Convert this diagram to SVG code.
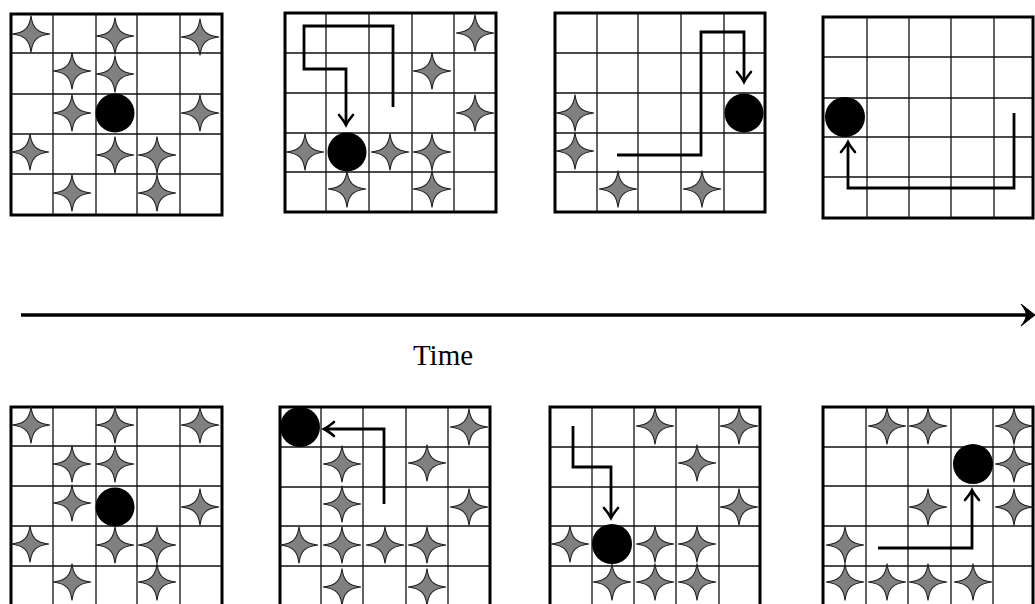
<svg xmlns="http://www.w3.org/2000/svg" xmlns:xlink="http://www.w3.org/1999/xlink" width="1035" height="604" viewBox="0 0 1035 604">
<style>
.bg{fill:#ffffff}
.inner{fill:none;stroke:#111;stroke-width:1.3}
.border{fill:none;stroke:#000;stroke-width:3}
.ball{fill:#000}
.route{fill:none;stroke:#000;stroke-width:2.8;stroke-linejoin:miter}
.axis{fill:none;stroke:#000;stroke-width:3.5}
.label{font-family:"Liberation Serif","Times New Roman",serif;font-size:29px;fill:#000}
</style>
<defs>
<path id="star" d="M0,-18.5 C1.5,-6 6,-1.5 19,0 C6,1.5 1.5,6 0,18.5 C-1.5,6 -6,1.5 -19,0 C-6,-1.5 -1.5,-6 0,-18.5 Z" fill="#808080" stroke="#222" stroke-width="1.1"/>
<marker id="ah" markerUnits="userSpaceOnUse" markerWidth="24" markerHeight="24" viewBox="-14 -12 16 24" refX="0" refY="0" orient="auto" overflow="visible">
<path d="M-10,-7 Q-4,-2 0,0 Q-4,2 -10,7" fill="none" stroke="#000" stroke-width="2.6" stroke-linecap="round"/>
</marker>
</defs>
<rect class="bg" x="0" y="0" width="1035" height="604"/>

<g id="panel-top-1">
<path class="inner" d="M53,14V215M96,14V215M137,14V215M180,14V215M11,53H222M11,94H222M11,134H222M11,174H222"/>
<rect class="border" x="11" y="14" width="211" height="201"/>
<use xlink:href="#star" x="31" y="34"/>
<use xlink:href="#star" x="115" y="36"/>
<use xlink:href="#star" x="200" y="37"/>
<use xlink:href="#star" x="72" y="71"/>
<use xlink:href="#star" x="115" y="74"/>
<use xlink:href="#star" x="72" y="113"/>
<use xlink:href="#star" x="200" y="113"/>
<use xlink:href="#star" x="30" y="152"/>
<use xlink:href="#star" x="115" y="155"/>
<use xlink:href="#star" x="157" y="155"/>
<use xlink:href="#star" x="72" y="193"/>
<use xlink:href="#star" x="157" y="193"/>
<circle class="ball" cx="115" cy="113" r="19.5"/>
</g>

<g id="panel-top-2">
<path class="inner" d="M326,13V212M369,13V212M412,13V212M454,13V212M285,53H496M285,93H496M285,133H496M285,172H496"/>
<rect class="border" x="285" y="13" width="211" height="199"/>
<use xlink:href="#star" x="475" y="33"/>
<use xlink:href="#star" x="432" y="71"/>
<use xlink:href="#star" x="475" y="113"/>
<use xlink:href="#star" x="305" y="152"/>
<use xlink:href="#star" x="390" y="152"/>
<use xlink:href="#star" x="432" y="152"/>
<use xlink:href="#star" x="347" y="189"/>
<use xlink:href="#star" x="432" y="189"/>
<circle class="ball" cx="347" cy="152" r="19.5"/>
</g>

<g id="panel-top-3">
<path class="inner" d="M597,13V212M638,13V212M681,13V212M724,13V212M555,53H765M555,93H765M555,133H765M555,172H765"/>
<rect class="border" x="555" y="13" width="210" height="199"/>
<use xlink:href="#star" x="575" y="113"/>
<use xlink:href="#star" x="575" y="151"/>
<use xlink:href="#star" x="618" y="189"/>
<use xlink:href="#star" x="702" y="189"/>
<circle class="ball" cx="744" cy="113" r="19.5"/>
</g>

<g id="panel-top-4">
<path class="inner" d="M867,17V218M909,17V218M951,17V218M994,17V218M823,57H1033M823,98H1033M823,137H1033M823,177H1033"/>
<rect class="border" x="823" y="17" width="210" height="201"/>
<circle class="ball" cx="845" cy="117" r="20"/>
</g>

<g id="panel-bottom-1">
<path class="inner" d="M53,407V606M96,407V606M137,407V606M180,407V606M11,446H222M11,486H222M11,526H222M11,566H222"/>
<rect class="border" x="11" y="407" width="211" height="200"/>
<use xlink:href="#star" x="31" y="425"/>
<use xlink:href="#star" x="115" y="425"/>
<use xlink:href="#star" x="200" y="425"/>
<use xlink:href="#star" x="72" y="464"/>
<use xlink:href="#star" x="115" y="464"/>
<use xlink:href="#star" x="72" y="503"/>
<use xlink:href="#star" x="200" y="507"/>
<use xlink:href="#star" x="30" y="544"/>
<use xlink:href="#star" x="115" y="545"/>
<use xlink:href="#star" x="157" y="545"/>
<use xlink:href="#star" x="72" y="582"/>
<use xlink:href="#star" x="157" y="582"/>
<circle class="ball" cx="115" cy="507" r="19.5"/>
</g>

<g id="panel-bottom-2">
<path class="inner" d="M321,407V606M363,407V606M406,407V606M448,407V606M280,447H490M280,487H490M280,526H490M280,566H490"/>
<rect class="border" x="280" y="407" width="210" height="200"/>
<use xlink:href="#star" x="469" y="427"/>
<use xlink:href="#star" x="342" y="464"/>
<use xlink:href="#star" x="427" y="463"/>
<use xlink:href="#star" x="342" y="504"/>
<use xlink:href="#star" x="469" y="507"/>
<use xlink:href="#star" x="299" y="545"/>
<use xlink:href="#star" x="342" y="545"/>
<use xlink:href="#star" x="385" y="545"/>
<use xlink:href="#star" x="427" y="545"/>
<use xlink:href="#star" x="342" y="587"/>
<use xlink:href="#star" x="427" y="587"/>
<circle class="ball" cx="300" cy="427" r="20"/>
</g>

<g id="panel-bottom-3">
<path class="inner" d="M592,407V606M634,407V606M676,407V606M719,407V606M550,447H760M550,487H760M550,526H760M550,566H760"/>
<rect class="border" x="550" y="407" width="210" height="200"/>
<use xlink:href="#star" x="655" y="426"/>
<use xlink:href="#star" x="739" y="426"/>
<use xlink:href="#star" x="697" y="463"/>
<use xlink:href="#star" x="739" y="507"/>
<use xlink:href="#star" x="570" y="544"/>
<use xlink:href="#star" x="655" y="544"/>
<use xlink:href="#star" x="697" y="544"/>
<use xlink:href="#star" x="612" y="582"/>
<use xlink:href="#star" x="655" y="582"/>
<use xlink:href="#star" x="697" y="582"/>
<circle class="ball" cx="612" cy="544" r="20"/>
</g>

<g id="panel-bottom-4">
<path class="inner" d="M866,407V606M908,407V606M951,407V606M993,407V606M823,447H1033M823,486H1033M823,526H1033M823,566H1033"/>
<rect class="border" x="823" y="407" width="210" height="200"/>
<use xlink:href="#star" x="887" y="426"/>
<use xlink:href="#star" x="928" y="426"/>
<use xlink:href="#star" x="1014" y="426"/>
<use xlink:href="#star" x="1014" y="464"/>
<use xlink:href="#star" x="928" y="507"/>
<use xlink:href="#star" x="1014" y="507"/>
<use xlink:href="#star" x="845" y="545"/>
<use xlink:href="#star" x="845" y="582"/>
<use xlink:href="#star" x="887" y="582"/>
<use xlink:href="#star" x="928" y="582"/>
<use xlink:href="#star" x="973" y="582"/>
<circle class="ball" cx="973" cy="464" r="20"/>
</g>

<g id="connectors">
<path class="route" d="M393,107V26H304V69H346V125" marker-end="url(#ah)"/>
<path class="route" d="M617,155H701V32H744V82" marker-end="url(#ah)"/>
<path class="route" d="M1014,113V188H848V142" marker-end="url(#ah)"/>
<path class="route" d="M384,504V429H324" marker-end="url(#ah)"/>
<path class="route" d="M573,426V467H611V518" marker-end="url(#ah)"/>
<path class="route" d="M878,548H972V490" marker-end="url(#ah)"/>
<path class="axis" d="M21,315H1030"/>
<path d="M1035,315 L1021,304 Q1027,312 1026,315 Q1027,318 1021,326 Z" fill="#000" stroke="#000" stroke-width="1"/>
</g>

<g id="time-label">
<text class="label" x="443" y="365" text-anchor="middle">Time</text>
</g>
</svg>
